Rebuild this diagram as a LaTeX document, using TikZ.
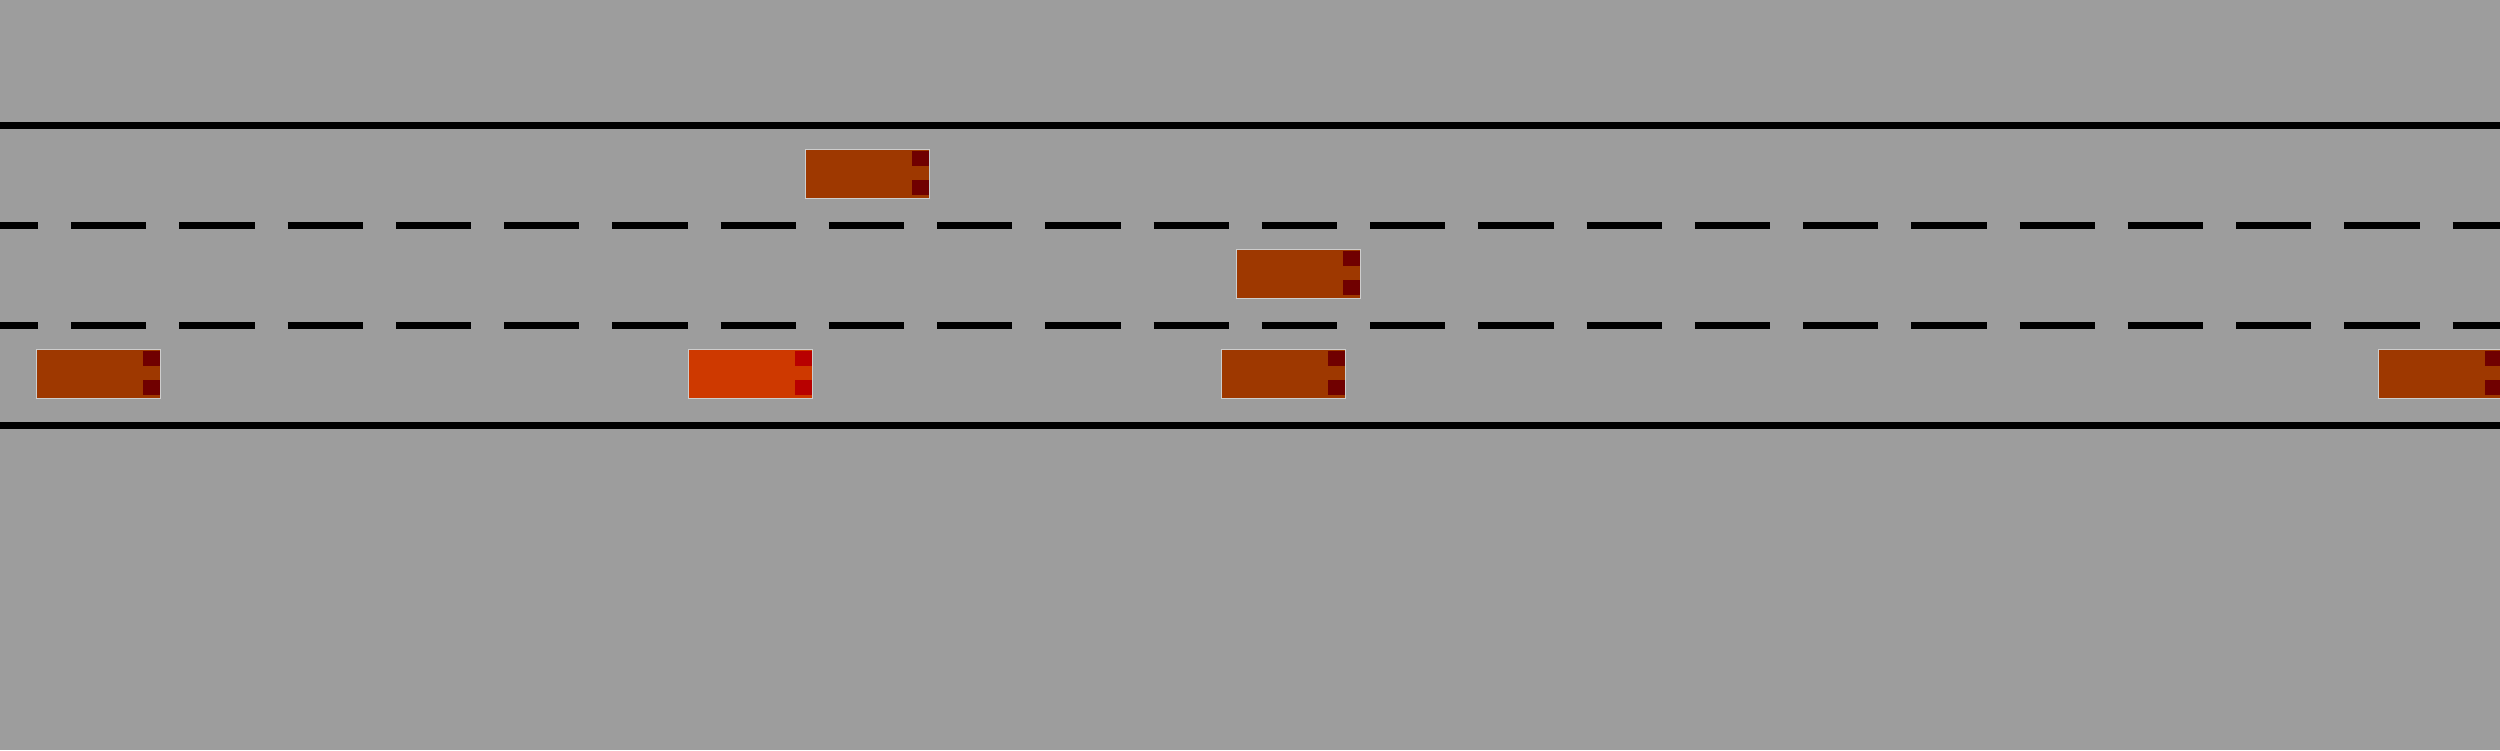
\documentclass[tikz,border=0pt]{standalone}
\usepackage{tikz}

\definecolor{roadgray}{RGB}{157,157,157}
\definecolor{carbody}{RGB}{158,56,0}
\definecolor{carlamp}{RGB}{112,0,0}
\definecolor{egobody}{RGB}{206,57,0}
\definecolor{egolamp}{RGB}{184,0,0}
\definecolor{carline}{RGB}{205,205,205}

\tikzset{
  edgeline/.style={line width=7pt},
  laneline/.style={line width=7pt, dash pattern=on 75.25pt off 33pt, dash phase=37.25pt}
}

\begin{document}
\begin{tikzpicture}[x=1pt,y=-1pt]
  \clip (0,0) rectangle (2500,750);
  \fill[roadgray] (0,0) rectangle (2500,750);
  % road borders
  \draw[edgeline] (0,125.5) -- (2500,125.5);
  \draw[edgeline] (0,425.5) -- (2500,425.5);
  % lane markings
  \draw[laneline] (0,225.5) -- (2500,225.5);
  \draw[laneline] (0,325.5) -- (2500,325.5);
  % vehicles
  \foreach \x/\y/\body/\lamp in {36/349/carbody/carlamp, 688/349/egobody/egolamp,
      1221/349/carbody/carlamp, 2378/349/carbody/carlamp,
      805/149/carbody/carlamp, 1236/249/carbody/carlamp} {
    \filldraw[fill=\body, draw=carline, line width=1pt] (\x+0.5,\y+0.5) rectangle ++(124,49);
    \fill[\lamp] (\x+107,\y+2) rectangle ++(17,15);
    \fill[\lamp] (\x+107,\y+31) rectangle ++(17,15);
  }
\end{tikzpicture}
\end{document}
